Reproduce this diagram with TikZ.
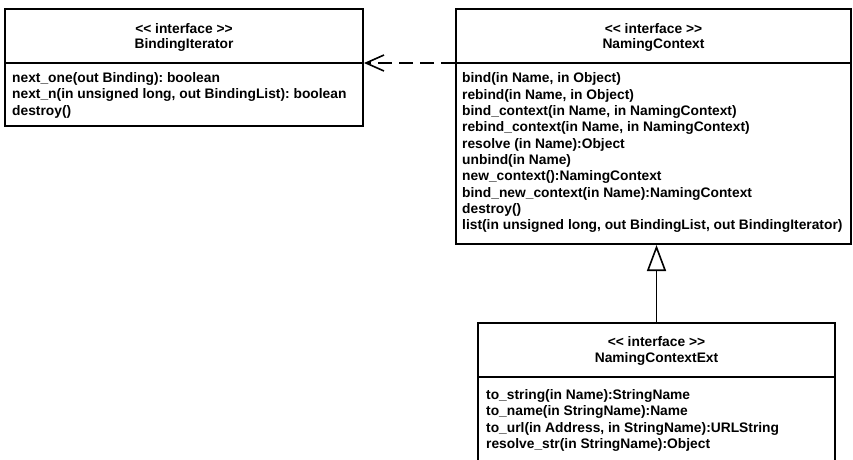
\documentclass[tikz,border=0pt]{standalone}
\usepackage{fontspec}
\setmainfont{Liberation Sans}
\usetikzlibrary{arrows.meta}

\newcommand{\stereo}{<\kern0pt< interface >\kern0pt>}

\tikzset{
  umlbox/.style={draw, line width=2pt, rectangle, inner sep=0pt, fill=white},
  umltext/.style={anchor=base west, inner sep=0pt,
    font=\fontsize{13.8}{16}\selectfont\bfseries\frenchspacing},
  umlhead/.style={anchor=base, inner sep=0pt,
    font=\fontsize{13.8}{16}\selectfont\bfseries},
  divider/.style={line width=2pt},
  depend/.style={line width=2pt, dash pattern=on 14pt off 7pt,
    -{Straight Barb[length=18pt, width=16pt, line width=1.6pt]}},
  inherit/.style={line width=1.6pt,
    -{Triangle[open, length=26pt, width=19pt, line width=1.6pt, fill=white]}}
}

\begin{document}
\begin{tikzpicture}[x=1pt, y=-1pt]
  \clip (0,0) rectangle (853,459);
  \fill[white] (0,0) rectangle (853,459);

  % class boxes
  \node[umlbox, minimum width=358pt, minimum height=117pt] (bi) at (184,67.5) {};
  \node[umlbox, minimum width=395pt, minimum height=235pt] (nc) at (653.5,126.5) {};
  \node[umlbox, minimum width=357pt, minimum height=160pt] (ext) at (656.5,403) {};

  % compartments
  \draw[divider] (bi.west |- 0,63) -- (bi.east |- 0,63);
  \draw[divider] (nc.west |- 0,62.5) -- (nc.east |- 0,62.5);
  \draw[divider] (ext.west |- 0,377) -- (ext.east |- 0,377);

  % BindingIterator
  \node[umlhead] (bi-st) at (184,33) {\stereo};
  \node[umlhead] (bi-nm) at (184,48.5) {BindingIterator};
  \foreach \t [count=\i from 0] in {
      {next\_one(out Binding): boolean},
      {next\_n(in unsigned long, out BindingList): boolean},
      {destroy()}}
    \node[umltext] (bi-m\i) at (12,82.5+\i*16.3) {\t};

  % NamingContext
  \node[umlhead] (nc-st) at (653.5,33) {\stereo};
  \node[umlhead] (nc-nm) at (653.5,48.5) {NamingContext};
  \foreach \t [count=\i from 0] in {
      {bind(in Name, in Object)},
      {rebind(in Name, in Object)},
      {bind\_context(in Name, in NamingContext)},
      {rebind\_context(in Name, in NamingContext)},
      {resolve (in Name):Object},
      {unbind(in Name)},
      {new\_context():NamingContext},
      {bind\_new\_context(in Name):NamingContext},
      {destroy()},
      {list(in unsigned long, out BindingList, out BindingIterator)}}
    \node[umltext] (nc-m\i) at (462,82.8+\i*16.35) {\t};

  % NamingContextExt
  \node[umlhead] (ext-st) at (656.5,346.5) {\stereo};
  \node[umlhead] (ext-nm) at (656.5,362.5) {NamingContextExt};
  \foreach \t [count=\i from 0] in {
      {to\_string(in Name):StringName},
      {to\_name(in StringName):Name},
      {to\_url(in Address, in StringName):URLString},
      {resolve\_str(in StringName):Object}}
    \node[umltext] (ext-m\i) at (486,399+\i*16.6) {\t};

  % relations
  \draw[depend] (nc.west |- 0,63) -- (bi.east |- 0,63);
  \draw[inherit] (ext.north) -- (nc.south -| ext.north);
\end{tikzpicture}
\end{document}
